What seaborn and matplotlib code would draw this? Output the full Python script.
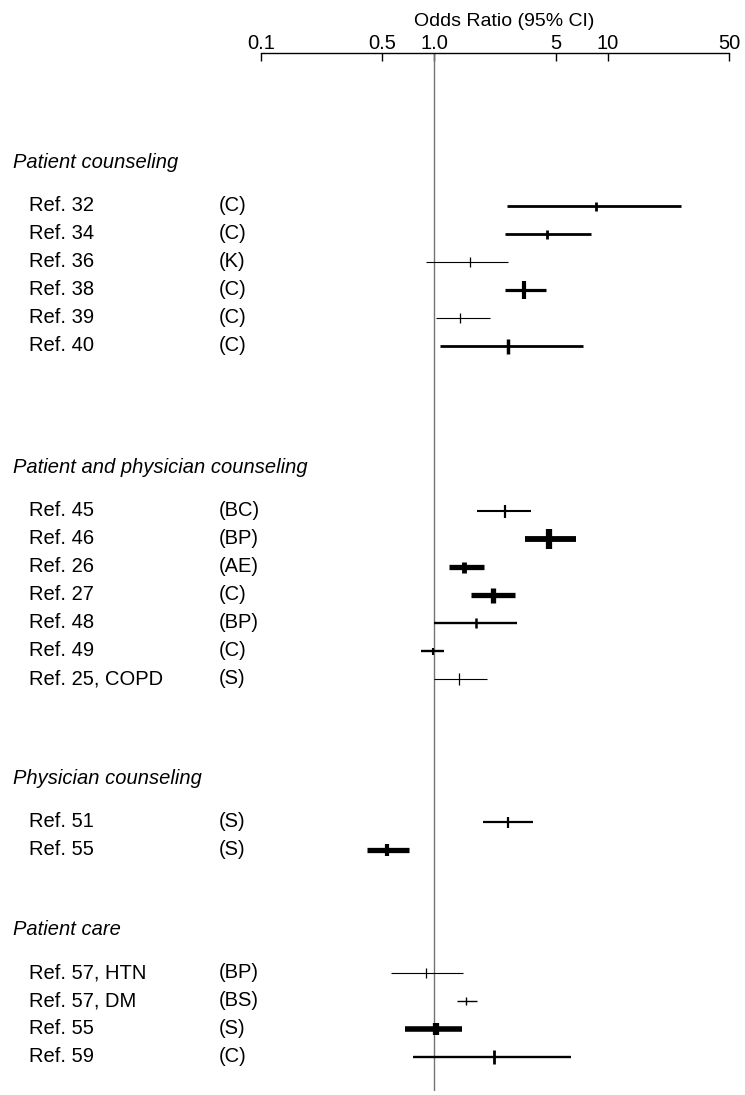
import numpy as np
import pandas as pd
import seaborn as sns
from matplotlib import pyplot as plt
from matplotlib import transforms

# groups of studies
groups = ['Patient counseling', 'Patient and physician counseling',
          'Physician counseling', 'Patient care']
group = [0, 0, 0, 0, 0, 0,
         1, 1, 1, 1, 1, 1, 1,
         2, 2,
         3, 3, 3, 3]
ref = ['Ref. 32', 'Ref. 34', 'Ref. 36', 'Ref. 38', 'Ref. 39', 'Ref. 40',
       'Ref. 45', 'Ref. 46', 'Ref. 26', 'Ref. 27', 'Ref. 48', 'Ref. 49', 'Ref. 25, COPD',
       'Ref. 51', 'Ref. 55',
       'Ref. 57, HTN', 'Ref. 57, DM', 'Ref. 55', 'Ref. 59']
code = ['(C)', '(C)', '(K)', '(C)', '(C)', '(C)',
        '(BC)', '(BP)', '(AE)', '(C)', '(BP)', '(C)', '(S)',
        '(S)', '(S)',
        '(BP)', '(BS)', '(S)', '(C)']
odds = [8.5, 4.48, 1.60, 3.30, 1.40, 2.67,
        2.56, 4.60, 1.48, 2.17, 1.74, 0.98, 1.39,
        2.67, 0.53,
        0.90, 1.53, 1.02, 2.22]
ci_lo = [2.61, 2.55, 0.90, 2.55, 1.02, 1.08,
         1.75, 3.33, 1.21, 1.62, 1.00, 0.84, 1.00,
         1.91, 0.41,
         0.56, 1.35, 0.68, 0.75]
ci_hi = [26.3, 7.97, 2.65, 4.38, 2.09, 7.17,
         3.61, 6.56, 1.92, 2.92, 3.01, 1.14, 2.01,
         3.69, 0.71,
         1.46, 1.77, 1.45, 6.11]
ticks = [0.1, 0.5, 1.0, 5, 10, 50]
tick_labels = ['0.1', '0.5', '1.0', '5', '10', '50']

# line weights (study weight) and marker heights, in points
lw = [2.0, 2.0, 0.8, 2.3, 0.8, 2.0,
      1.5, 4.2, 3.8, 3.8, 1.7, 1.7, 0.8,
      1.6, 3.8,
      0.8, 1.0, 4.0, 1.7]
mh = [9, 9, 10, 18, 10, 15,
      13, 20, 11, 15, 10, 7, 12,
      11, 12,
      10, 8, 12, 14]
mw = [2.0, 2.0, 0.9, 3.0, 0.9, 2.5,
      1.6, 4.5, 3.5, 3.8, 1.8, 1.5, 0.9,
      1.6, 3.0,
      0.9, 1.0, 4.5, 2.0]

# layout: gap (rows) before each group header, header to first row
group_gap = [3.9, 4.35, 3.55, 2.85]
head_gap = 1.55

df = pd.DataFrame({'group': group, 'ref': ref, 'code': code,
                   'odds': odds, 'lo': ci_lo, 'hi': ci_hi})

sns.set_theme(style='white')
plt.rcParams['font.family'] = ['Liberation Sans', 'DejaVu Sans']
plt.rcParams['text.color'] = 'black'
plt.rcParams['xtick.labelcolor'] = 'black'

W, H = 745, 1095
fig = plt.figure(figsize=(W / 100, H / 100), dpi=100)
top_px, bot_px = 53, 1091
left_px, right_px = 261, 729
ax = fig.add_axes([left_px / W, (H - bot_px) / H,
                   (right_px - left_px) / W, (bot_px - top_px) / H])

# row positions
rows = []
head_pos = []
y = 0.0
prev = None
for g in df['group']:
    if g != prev:
        if prev is None:
            y = group_gap[g]
        else:
            y = y + group_gap[g]
        head_pos.append(y)
        y = y + head_gap
        prev = g
    else:
        y = y + 1.0
    rows.append(y)
df['y'] = rows

row_px = 28.0
ax.set_xscale('log')
ax.set_xlim(0.1, 50)
ax.set_ylim((bot_px - top_px) / row_px, 0)

ax.axvline(1.0, color='0.45', lw=1.0, zorder=1)

for i, r in df.iterrows():
    ax.plot([r['lo'], r['hi']], [r['y'], r['y']], color='black',
            lw=lw[i], solid_capstyle='butt', zorder=2)
    ax.plot([r['odds']], [r['y']], marker='|', color='black',
            markersize=mh[i] * 0.72, markeredgewidth=mw[i], zorder=3)

trans = transforms.blended_transform_factory(fig.transFigure, ax.transData)
fs = 14.5
for g, yh in zip(groups, head_pos):
    ax.text(13 / W, yh, g, transform=trans, fontsize=fs, style='italic',
            ha='left', va='center', clip_on=False, color='black')
for _, r in df.iterrows():
    ax.text(29 / W, r['y'], r['ref'], transform=trans, fontsize=fs,
            ha='left', va='center', clip_on=False, color='black')
    ax.text(219 / W, r['y'], r['code'], transform=trans, fontsize=fs,
            ha='left', va='center', clip_on=False, color='black')

# top axis
for s in ['left', 'right', 'bottom']:
    ax.spines[s].set_visible(False)
ax.spines['top'].set_color('black')
ax.spines['top'].set_linewidth(1.0)
ax.xaxis.set_ticks_position('top')
ax.xaxis.set_label_position('top')
ax.set_xticks(ticks)
ax.set_xticklabels(tick_labels)
ax.xaxis.set_minor_locator(plt.NullLocator())
ax.tick_params(axis='x', which='major', direction='in', length=6, width=1.0,
               color='black', labelcolor='black', labelsize=fs, pad=0,
               top=True, bottom=False)
ax.set_yticks([])
ax.grid(False)

fig.text(504 / W, 1 - 21 / H, 'Odds Ratio (95% CI)', fontsize=14,
         ha='center', va='center', color='black')

fig.savefig('out.png', dpi=100)
